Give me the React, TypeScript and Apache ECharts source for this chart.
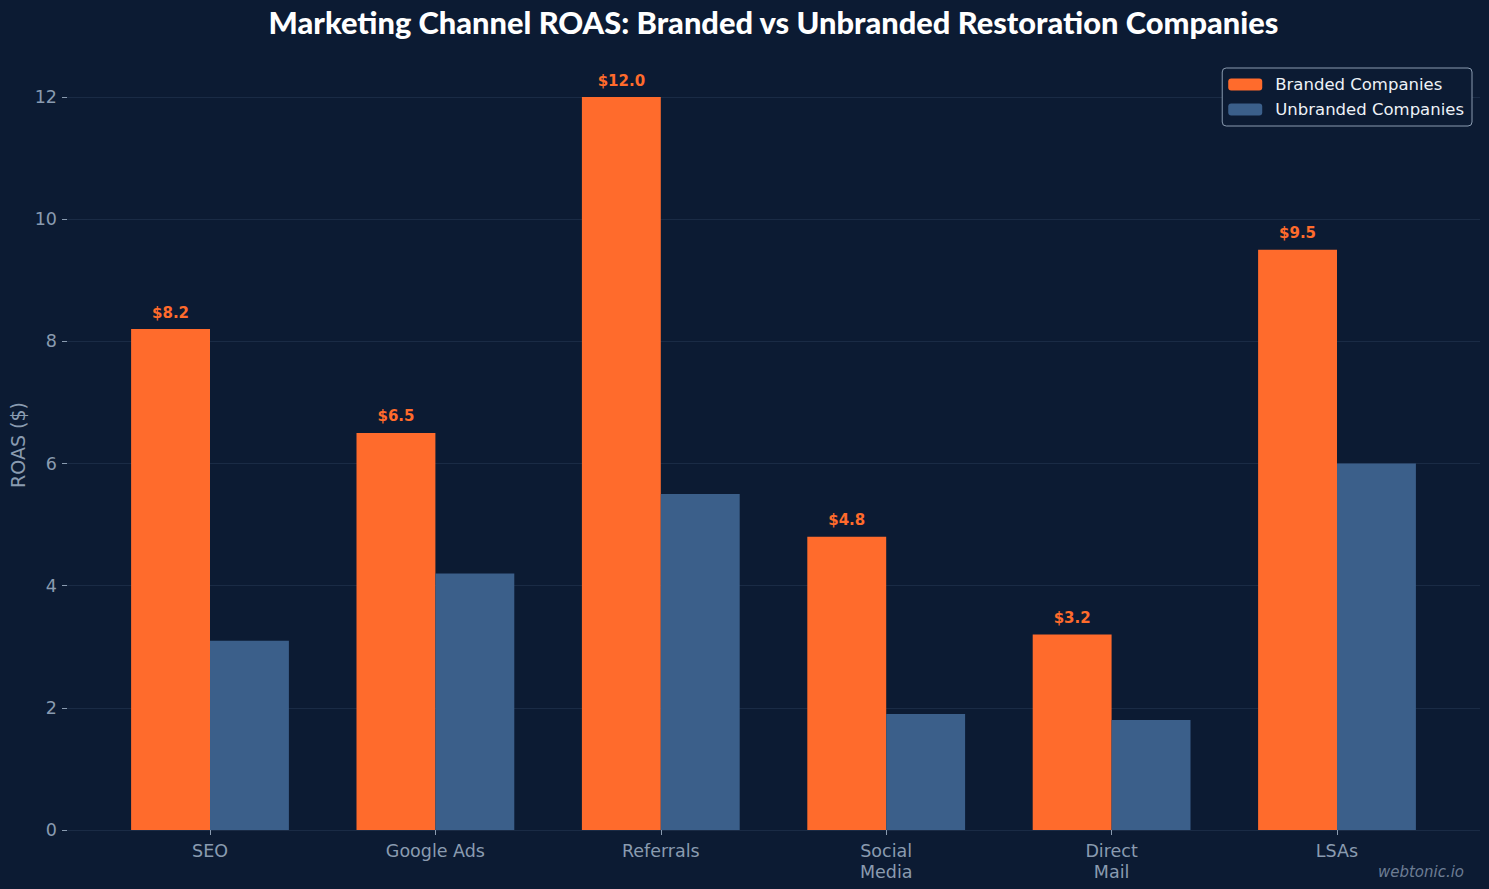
import React, { useEffect, useRef } from "react";
import * as echarts from "echarts";

const categories = ["SEO", "Google Ads", "Referrals", "Social\nMedia", "Direct\nMail", "LSAs"];
const branded = [8.2, 6.5, 12.0, 4.8, 3.2, 9.5];
const unbranded = [3.1, 4.2, 5.5, 1.9, 1.8, 6.0];

const BG = "#0c1b33";
const ORANGE = "#ff6b2c";
const BLUE = "#3b5f8a";
const TICK = "#8a9bb0";
const FONT = "DejaVu Sans";

export default function App() {
  const ref = useRef<HTMLDivElement>(null);
  useEffect(() => {
    if (!ref.current) return;
    const chart = echarts.init(ref.current, undefined, { renderer: "svg" });
    const yMax = 12;
    chart.setOption({
      animation: false,
      backgroundColor: BG,
      legend: {
        orient: "vertical",
        right: 17,
        top: 68,
        padding: [8, 8, 8, 6],
        itemWidth: 34,
        itemHeight: 12,
        itemGap: 8,
        backgroundColor: BG,
        borderColor: "#8a9bb0",
        borderWidth: 1,
        borderRadius: 4,
        textStyle: { color: "#eef2f7", fontFamily: FONT, fontSize: 16.5, padding: [0, 0, 0, 8] },
        data: ["Branded Companies", "Unbranded Companies"],
      },
      grid: [
        { left: 67, right: 9, top: 97, bottom: 59 },
        { left: 97.3, right: 39.3, top: 97, bottom: 59 },
      ],
      xAxis: [
        { gridIndex: 0, type: "value", show: false, min: 0, max: 1 },
        {
          gridIndex: 1,
          type: "category",
          data: categories,
          axisLine: { show: false },
          axisTick: { show: true, alignWithLabel: true, length: 5, lineStyle: { color: TICK } },
          axisLabel: { color: TICK, fontFamily: FONT, fontSize: 17.5, margin: 10, lineHeight: 21 },
        },
      ],
      yAxis: [
        {
          gridIndex: 0,
          type: "value",
          min: 0,
          max: yMax,
          interval: 2,
          axisLine: { show: false },
          axisTick: { show: true, length: 5, lineStyle: { color: TICK } },
          axisLabel: { color: TICK, fontFamily: FONT, fontSize: 17.5, margin: 10 },
          splitLine: { show: true, lineStyle: { color: "#1a2b45", width: 1 } },
        },
        { gridIndex: 1, type: "value", min: 0, max: yMax, show: false },
      ],
      series: [
        {
          name: "Branded Companies",
          type: "bar",
          xAxisIndex: 1,
          yAxisIndex: 1,
          data: branded,
          barWidth: 78.9,
          barGap: "0%",
          itemStyle: { color: ORANGE },
          label: {
            show: true,
            position: "top",
            distance: 9,
            color: ORANGE,
            fontFamily: FONT,
            fontWeight: "bold",
            fontSize: 15,
            formatter: (p: any) => "$" + Number(p.value).toFixed(1),
          },
        },
        {
          name: "Unbranded Companies",
          type: "bar",
          xAxisIndex: 1,
          yAxisIndex: 1,
          data: unbranded,
          barWidth: 78.9,
          barGap: "0%",
          itemStyle: { color: BLUE },
        },
      ],
      graphic: [
        {
          type: "text",
          x: 773.5,
          y: 22,
          style: {
            text: "Marketing Channel ROAS: Branded vs Unbranded Restoration Companies",
            fill: "#ffffff",
            font: "900 30.8px Lato",
            textAlign: "center",
            textVerticalAlign: "middle",
          },
        },
        {
          type: "text",
          x: 18,
          y: 445,
          rotation: Math.PI / 2,
          style: {
            text: "ROAS ($)",
            fill: TICK,
            font: "19px 'DejaVu Sans'",
            textAlign: "center",
            textVerticalAlign: "middle",
          },
        },
        {
          type: "text",
          right: 25,
          top: 864,
          style: {
            text: "webtonic.io",
            fill: "#6d7d93",
            font: "italic 15px 'DejaVu Sans'",
          },
        },
      ],
    });
    return () => chart.dispose();
  }, []);
  return <div ref={ref} style={{ width: 1489, height: 889, position: "absolute", left: 0, top: 0 }} />;
}
